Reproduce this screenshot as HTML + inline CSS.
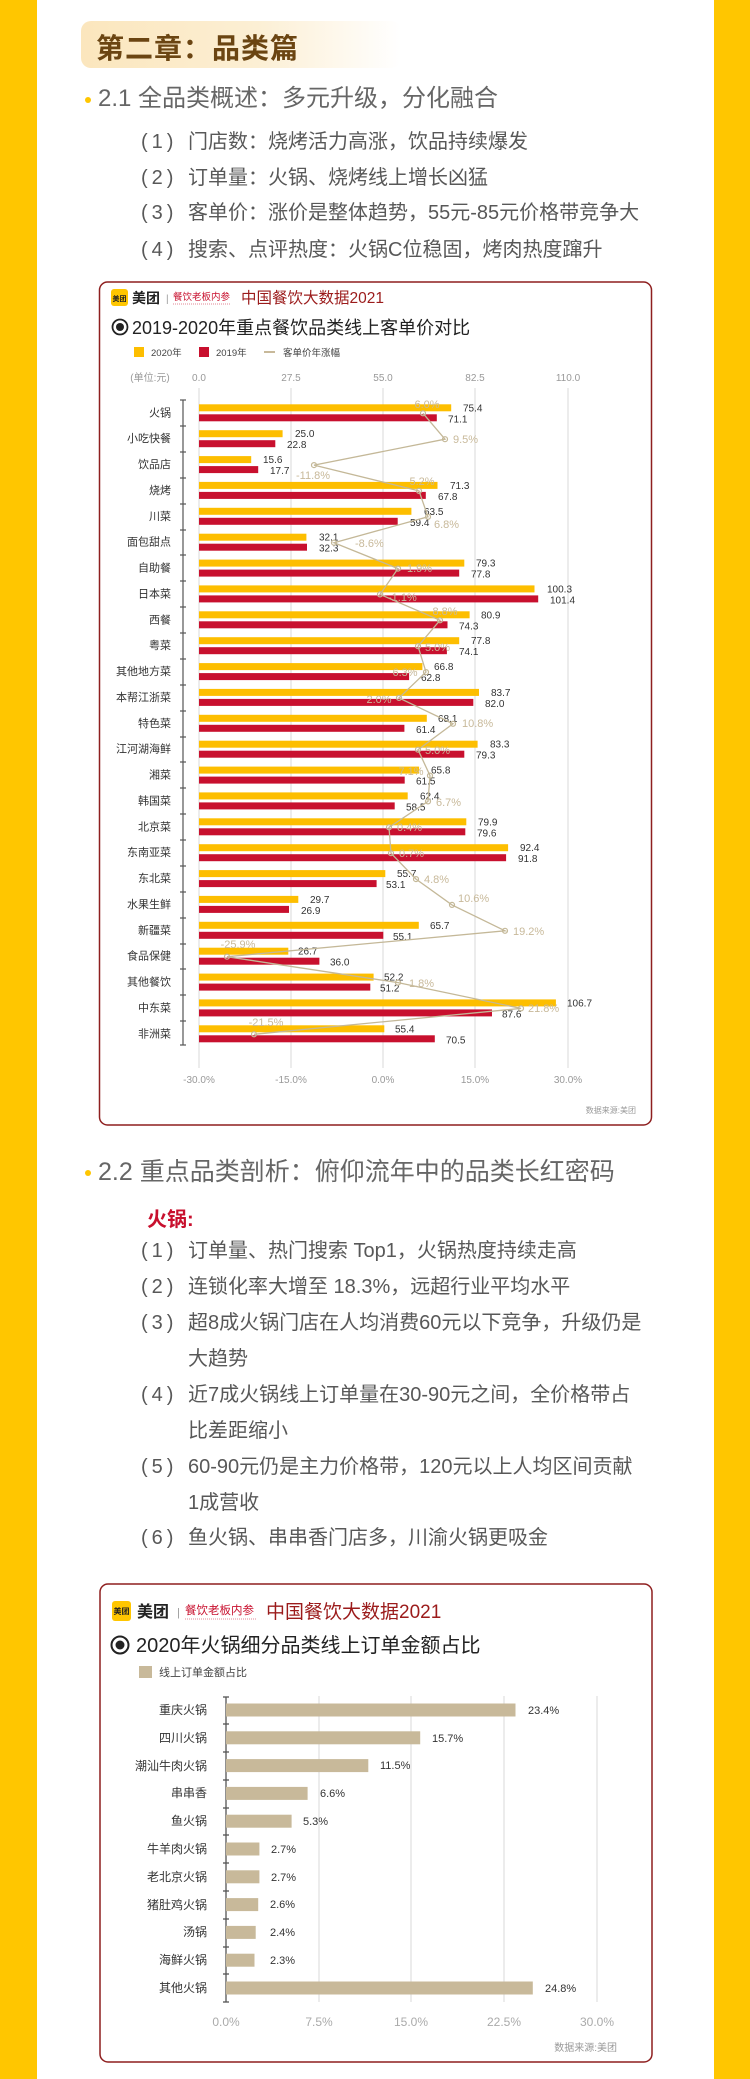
<!DOCTYPE html>
<html><head><meta charset="utf-8">
<style>
*{margin:0;padding:0;box-sizing:border-box}
html,body{width:750px;height:2079px;overflow:hidden;background:#fff}
body{position:relative;font-family:"Liberation Sans","Noto Sans CJK SC",sans-serif}
.side{position:absolute;top:0;height:2079px;background:#FFC600}
.t{position:absolute;white-space:nowrap}
.hd{position:absolute;left:81px;top:21px;width:320px;height:47px;border-radius:10px;background:linear-gradient(90deg,#fbe6bd 0%,#fcefd4 55%,#fff 100%)}
.hd span{position:absolute;left:15px;top:6px;font-size:28px;font-weight:bold;color:#6b4512;letter-spacing:1px}
.h2{font-size:24px;color:#666;line-height:36px}
.dot{position:absolute;width:6px;height:6px;border-radius:3px;background:#FFC600}
.it{position:absolute;left:141px;font-size:20px;color:#585858;line-height:36px;white-space:nowrap}
.it b{display:inline-block;width:47px;font-weight:normal}
.it i{font-style:normal;display:inline-block;padding-left:47px}
svg{position:absolute;left:0;top:0}
</style></head><body>
<div class="side" style="left:0;width:37px"></div>
<div class="side" style="left:714px;width:36px"></div>

<div class="hd"><span>第二章：品类篇</span></div>

<div class="dot" style="left:85px;top:97px"></div>
<div class="t h2" style="left:98px;top:81px">2.1 全品类概述：多元升级，分化融合</div>
<div class="it" style="top:124px"><b>(&thinsp;1&thinsp;)</b>门店数：烧烤活力高涨，饮品持续爆发</div>
<div class="it" style="top:160px"><b>(&thinsp;2&thinsp;)</b>订单量：火锅、烧烤线上增长凶猛</div>
<div class="it" style="top:195px"><b>(&thinsp;3&thinsp;)</b>客单价：涨价是整体趋势，55元-85元价格带竞争大</div>
<div class="it" style="top:232px"><b>(&thinsp;4&thinsp;)</b>搜索、点评热度：火锅C位稳固，烤肉热度蹿升</div>

<div class="dot" style="left:85px;top:1170px"></div>
<div class="t h2" style="left:98px;top:1154px;font-size:25px">2.2 重点品类剖析：俯仰流年中的品类长红密码</div>
<div class="t" style="left:147px;top:1203px;font-size:20px;font-weight:bold;color:#c8102e">火锅:</div>
<div class="it" style="top:1233px"><b>(&thinsp;1&thinsp;)</b>订单量、热门搜索 Top1，火锅热度持续走高</div>
<div class="it" style="top:1269px"><b>(&thinsp;2&thinsp;)</b>连锁化率大增至 18.3%，远超行业平均水平</div>
<div class="it" style="top:1305px"><b>(&thinsp;3&thinsp;)</b>超8成火锅门店在人均消费60元以下竞争，升级仍是<br><i>大趋势</i></div>
<div class="it" style="top:1377px"><b>(&thinsp;4&thinsp;)</b>近7成火锅线上订单量在30-90元之间，全价格带占<br><i>比差距缩小</i></div>
<div class="it" style="top:1449px"><b>(&thinsp;5&thinsp;)</b>60-90元仍是主力价格带，120元以上人均区间贡献<br><i>1成营收</i></div>
<div class="it" style="top:1520px"><b>(&thinsp;6&thinsp;)</b>鱼火锅、串串香门店多，川渝火锅更吸金</div>

<svg width="750" height="2079" viewBox="0 0 750 2079" font-family="Liberation Sans, Noto Sans CJK SC, sans-serif">
<!-- CHART 1 -->
<rect x="99.5" y="282" width="552" height="843" rx="8" fill="none" stroke="#8e1f1f" stroke-width="1.5"/>
<rect x="111" y="289" width="17" height="17" rx="3" fill="#FFC600"/>
<text x="119.5" y="301" font-size="7" text-anchor="middle" fill="#222" font-weight="bold">美团</text>
<text x="132" y="303" font-size="14" font-weight="bold" fill="#222">美团</text>
<text x="166" y="302" font-size="10" fill="#999">|</text>
<text x="173" y="300" font-size="9.5" fill="#c8102e">餐饮老板内参</text>
<line x1="173" y1="304" x2="231" y2="304" stroke="#c8102e" stroke-width="0.6" stroke-dasharray="1,1"/>
<text x="241" y="303" font-size="15.5" fill="#9b1b1b">中国餐饮大数据2021</text>
<circle cx="120" cy="327" r="7.5" fill="none" stroke="#222" stroke-width="1.8"/>
<circle cx="120" cy="327" r="4" fill="#222"/>
<text x="132" y="334" font-size="18" fill="#222">2019-2020年重点餐饮品类线上客单价对比</text>
<rect x="134" y="347" width="10" height="10" fill="#FDBE00"/>
<text x="151" y="356" font-size="9.5" fill="#444">2020年</text>
<rect x="199" y="347" width="10" height="10" fill="#C8102E"/>
<text x="216" y="356" font-size="9.5" fill="#444">2019年</text>
<line x1="264" y1="352" x2="275" y2="352" stroke="#c8b99a" stroke-width="2"/>
<text x="283" y="356" font-size="9.5" fill="#444">客单价年涨幅</text>
<g font-size="10" fill="#999" text-anchor="middle">
<text x="150" y="381">(单位:元)</text>
<text x="199" y="381">0.0</text><text x="291" y="381">27.5</text><text x="383" y="381">55.0</text><text x="475" y="381">82.5</text><text x="568" y="381">110.0</text>
<text x="199" y="1083">-30.0%</text><text x="291" y="1083">-15.0%</text><text x="383" y="1083">0.0%</text><text x="475" y="1083">15.0%</text><text x="568" y="1083">30.0%</text>
</g>
<g stroke="#d8d8d8" stroke-width="1">
<line x1="199" y1="388" x2="199" y2="1068"/><line x1="291" y1="388" x2="291" y2="1068"/><line x1="383" y1="388" x2="383" y2="1068"/><line x1="475" y1="388" x2="475" y2="1068"/><line x1="568" y1="388" x2="568" y2="1068"/>
</g>
<line x1="183" y1="400" x2="183" y2="1045" stroke="#555" stroke-width="1.2"/>
<g stroke="#555" stroke-width="1.2">
<line x1="180" y1="400" x2="186" y2="400"/><line x1="180" y1="426" x2="186" y2="426"/><line x1="180" y1="452" x2="186" y2="452"/><line x1="180" y1="478" x2="186" y2="478"/><line x1="180" y1="504" x2="186" y2="504"/><line x1="180" y1="530" x2="186" y2="530"/><line x1="180" y1="555" x2="186" y2="555"/><line x1="180" y1="581" x2="186" y2="581"/><line x1="180" y1="607" x2="186" y2="607"/><line x1="180" y1="633" x2="186" y2="633"/><line x1="180" y1="659" x2="186" y2="659"/><line x1="180" y1="685" x2="186" y2="685"/><line x1="180" y1="711" x2="186" y2="711"/><line x1="180" y1="737" x2="186" y2="737"/><line x1="180" y1="762" x2="186" y2="762"/><line x1="180" y1="788" x2="186" y2="788"/><line x1="180" y1="814" x2="186" y2="814"/><line x1="180" y1="840" x2="186" y2="840"/><line x1="180" y1="866" x2="186" y2="866"/><line x1="180" y1="892" x2="186" y2="892"/><line x1="180" y1="918" x2="186" y2="918"/><line x1="180" y1="944" x2="186" y2="944"/><line x1="180" y1="969" x2="186" y2="969"/><line x1="180" y1="995" x2="186" y2="995"/><line x1="180" y1="1021" x2="186" y2="1021"/><line x1="180" y1="1045" x2="186" y2="1045"/>
</g>
<g font-size="10" fill="#333">
<g transform="translate(0,404.3)"><text x="171" y="12" font-size="11" text-anchor="end">火锅</text><rect x="199" y="0" width="252.2" height="7" fill="#FDBE00"/><rect x="199" y="10" width="237.8" height="7" fill="#C8102E"/><text x="463" y="7">75.4</text><text x="448" y="18">71.1</text></g>
<g transform="translate(0,430.2)"><text x="171" y="12" font-size="11" text-anchor="end">小吃快餐</text><rect x="199" y="0" width="83.6" height="7" fill="#FDBE00"/><rect x="199" y="10" width="76.3" height="7" fill="#C8102E"/><text x="295" y="7">25.0</text><text x="287" y="18">22.8</text></g>
<g transform="translate(0,456.1)"><text x="171" y="12" font-size="11" text-anchor="end">饮品店</text><rect x="199" y="0" width="52.2" height="7" fill="#FDBE00"/><rect x="199" y="10" width="59.2" height="7" fill="#C8102E"/><text x="263" y="7">15.6</text><text x="270" y="18">17.7</text></g>
<g transform="translate(0,481.9)"><text x="171" y="12" font-size="11" text-anchor="end">烧烤</text><rect x="199" y="0" width="238.5" height="7" fill="#FDBE00"/><rect x="199" y="10" width="226.8" height="7" fill="#C8102E"/><text x="450" y="7">71.3</text><text x="438" y="18">67.8</text></g>
<g transform="translate(0,507.8)"><text x="171" y="12" font-size="11" text-anchor="end">川菜</text><rect x="199" y="0" width="212.4" height="7" fill="#FDBE00"/><rect x="199" y="10" width="198.7" height="7" fill="#C8102E"/><text x="424" y="7">63.5</text><text x="410" y="18">59.4</text></g>
<g transform="translate(0,533.7)"><text x="171" y="12" font-size="11" text-anchor="end">面包甜点</text><rect x="199" y="0" width="107.4" height="7" fill="#FDBE00"/><rect x="199" y="10" width="108" height="7" fill="#C8102E"/><text x="319" y="7">32.1</text><text x="319" y="18">32.3</text></g>
<g transform="translate(0,559.6)"><text x="171" y="12" font-size="11" text-anchor="end">自助餐</text><rect x="199" y="0" width="265.3" height="7" fill="#FDBE00"/><rect x="199" y="10" width="260.2" height="7" fill="#C8102E"/><text x="476" y="7">79.3</text><text x="471" y="18">77.8</text></g>
<g transform="translate(0,585.4)"><text x="171" y="12" font-size="11" text-anchor="end">日本菜</text><rect x="199" y="0" width="335.5" height="7" fill="#FDBE00"/><rect x="199" y="10" width="339.2" height="7" fill="#C8102E"/><text x="547" y="7">100.3</text><text x="550" y="18">101.4</text></g>
<g transform="translate(0,611.3)"><text x="171" y="12" font-size="11" text-anchor="end">西餐</text><rect x="199" y="0" width="270.6" height="7" fill="#FDBE00"/><rect x="199" y="10" width="248.5" height="7" fill="#C8102E"/><text x="481" y="7">80.9</text><text x="459" y="18">74.3</text></g>
<g transform="translate(0,637.2)"><text x="171" y="12" font-size="11" text-anchor="end">粤菜</text><rect x="199" y="0" width="260.2" height="7" fill="#FDBE00"/><rect x="199" y="10" width="247.9" height="7" fill="#C8102E"/><text x="471" y="7">77.8</text><text x="459" y="18">74.1</text></g>
<g transform="translate(0,663.1)"><text x="171" y="12" font-size="11" text-anchor="end">其他地方菜</text><rect x="199" y="0" width="223.4" height="7" fill="#FDBE00"/><rect x="199" y="10" width="210.1" height="7" fill="#C8102E"/><text x="434" y="7">66.8</text><text x="421" y="18">62.8</text></g>
<g transform="translate(0,688.9)"><text x="171" y="12" font-size="11" text-anchor="end">本帮江浙菜</text><rect x="199" y="0" width="280" height="7" fill="#FDBE00"/><rect x="199" y="10" width="274.3" height="7" fill="#C8102E"/><text x="491" y="7">83.7</text><text x="485" y="18">82.0</text></g>
<g transform="translate(0,714.8)"><text x="171" y="12" font-size="11" text-anchor="end">特色菜</text><rect x="199" y="0" width="227.8" height="7" fill="#FDBE00"/><rect x="199" y="10" width="205.4" height="7" fill="#C8102E"/><text x="438" y="7">68.1</text><text x="416" y="18">61.4</text></g>
<g transform="translate(0,740.7)"><text x="171" y="12" font-size="11" text-anchor="end">江河湖海鲜</text><rect x="199" y="0" width="278.6" height="7" fill="#FDBE00"/><rect x="199" y="10" width="265.3" height="7" fill="#C8102E"/><text x="490" y="7">83.3</text><text x="476" y="18">79.3</text></g>
<g transform="translate(0,766.6)"><text x="171" y="12" font-size="11" text-anchor="end">湘菜</text><rect x="199" y="0" width="220.1" height="7" fill="#FDBE00"/><rect x="199" y="10" width="205.7" height="7" fill="#C8102E"/><text x="431" y="7">65.8</text><text x="416" y="18">61.5</text></g>
<g transform="translate(0,792.4)"><text x="171" y="12" font-size="11" text-anchor="end">韩国菜</text><rect x="199" y="0" width="208.7" height="7" fill="#FDBE00"/><rect x="199" y="10" width="195.7" height="7" fill="#C8102E"/><text x="420" y="7">62.4</text><text x="406" y="18">58.5</text></g>
<g transform="translate(0,818.3)"><text x="171" y="12" font-size="11" text-anchor="end">北京菜</text><rect x="199" y="0" width="267.3" height="7" fill="#FDBE00"/><rect x="199" y="10" width="266.3" height="7" fill="#C8102E"/><text x="478" y="7">79.9</text><text x="477" y="18">79.6</text></g>
<g transform="translate(0,844.2)"><text x="171" y="12" font-size="11" text-anchor="end">东南亚菜</text><rect x="199" y="0" width="309.1" height="7" fill="#FDBE00"/><rect x="199" y="10" width="307.1" height="7" fill="#C8102E"/><text x="520" y="7">92.4</text><text x="518" y="18">91.8</text></g>
<g transform="translate(0,870.1)"><text x="171" y="12" font-size="11" text-anchor="end">东北菜</text><rect x="199" y="0" width="186.3" height="7" fill="#FDBE00"/><rect x="199" y="10" width="177.6" height="7" fill="#C8102E"/><text x="397" y="7">55.7</text><text x="386" y="18">53.1</text></g>
<g transform="translate(0,895.9)"><text x="171" y="12" font-size="11" text-anchor="end">水果生鲜</text><rect x="199" y="0" width="99.3" height="7" fill="#FDBE00"/><rect x="199" y="10" width="90" height="7" fill="#C8102E"/><text x="310" y="7">29.7</text><text x="301" y="18">26.9</text></g>
<g transform="translate(0,921.8)"><text x="171" y="12" font-size="11" text-anchor="end">新疆菜</text><rect x="199" y="0" width="219.8" height="7" fill="#FDBE00"/><rect x="199" y="10" width="184.3" height="7" fill="#C8102E"/><text x="430" y="7">65.7</text><text x="393" y="18">55.1</text></g>
<g transform="translate(0,947.7)"><text x="171" y="12" font-size="11" text-anchor="end">食品保健</text><rect x="199" y="0" width="89.3" height="7" fill="#FDBE00"/><rect x="199" y="10" width="120.4" height="7" fill="#C8102E"/><text x="298" y="7">26.7</text><text x="330" y="18">36.0</text></g>
<g transform="translate(0,973.6)"><text x="171" y="12" font-size="11" text-anchor="end">其他餐饮</text><rect x="199" y="0" width="174.6" height="7" fill="#FDBE00"/><rect x="199" y="10" width="171.3" height="7" fill="#C8102E"/><text x="384" y="7">52.2</text><text x="380" y="18">51.2</text></g>
<g transform="translate(0,999.4)"><text x="171" y="12" font-size="11" text-anchor="end">中东菜</text><rect x="199" y="0" width="356.9" height="7" fill="#FDBE00"/><rect x="199" y="10" width="293" height="7" fill="#C8102E"/><text x="567" y="7">106.7</text><text x="502" y="18">87.6</text></g>
<g transform="translate(0,1025.3)"><text x="171" y="12" font-size="11" text-anchor="end">非洲菜</text><rect x="199" y="0" width="185.3" height="7" fill="#FDBE00"/><rect x="199" y="10" width="235.8" height="7" fill="#C8102E"/><text x="395" y="7">55.4</text><text x="446" y="18">70.5</text></g>
</g>
<polyline fill="none" stroke="#c4b898" stroke-width="1.3" points="423,413.3 445,439.2 314,465.1 419,490.9 428,516.8 334,542.7 398,568.6 380,594.4 440,620.3 418,646.2 426,672.1 399,697.9 453,723.8 418,749.7 430,775.6 428,801.4 389,827.3 391,853.2 416,879.1 452,904.9 505,930.8 227,956.7 398,982.6 521,1008.4 254,1034.3"/>
<g fill="none" stroke="#c4b898" stroke-width="1.2">
<circle cx="423" cy="413.3" r="2.5"/><circle cx="445" cy="439.2" r="2.5"/><circle cx="314" cy="465.1" r="2.5"/><circle cx="419" cy="490.9" r="2.5"/><circle cx="428" cy="516.8" r="2.5"/><circle cx="334" cy="542.7" r="2.5"/><circle cx="398" cy="568.6" r="2.5"/><circle cx="380" cy="594.4" r="2.5"/><circle cx="440" cy="620.3" r="2.5"/><circle cx="418" cy="646.2" r="2.5"/><circle cx="426" cy="672.1" r="2.5"/><circle cx="399" cy="697.9" r="2.5"/><circle cx="453" cy="723.8" r="2.5"/><circle cx="418" cy="749.7" r="2.5"/><circle cx="430" cy="775.6" r="2.5"/><circle cx="428" cy="801.4" r="2.5"/><circle cx="389" cy="827.3" r="2.5"/><circle cx="391" cy="853.2" r="2.5"/><circle cx="416" cy="879.1" r="2.5"/><circle cx="452" cy="904.9" r="2.5"/><circle cx="505" cy="930.8" r="2.5"/><circle cx="227" cy="956.7" r="2.5"/><circle cx="398" cy="982.6" r="2.5"/><circle cx="521" cy="1008.4" r="2.5"/><circle cx="254" cy="1034.3" r="2.5"/>
</g>
<g font-size="11" fill="#c8b99a">
<text x="427" y="408" text-anchor="middle">6.0%</text>
<text x="453" y="443">9.5%</text>
<text x="296" y="479">-11.8%</text>
<text x="422" y="485" text-anchor="middle">5.2%</text>
<text x="434" y="528">6.8%</text>
<text x="355" y="547">-8.6%</text>
<text x="407" y="572">1.9%</text>
<text x="388" y="601">-1.1%</text>
<text x="445" y="615" text-anchor="middle">8.8%</text>
<text x="425" y="651">5.0%</text>
<text x="405" y="676" text-anchor="middle">6.3%</text>
<text x="379" y="703" text-anchor="middle">2.0%</text>
<text x="462" y="727">10.8%</text>
<text x="425" y="754">5.0%</text>
<text x="411" y="775" text-anchor="middle">7.1%</text>
<text x="436" y="806">6.7%</text>
<text x="397" y="831">0.4%</text>
<text x="399" y="857">0.7%</text>
<text x="424" y="883">4.8%</text>
<text x="458" y="902">10.6%</text>
<text x="513" y="935">19.2%</text>
<text x="238" y="948" text-anchor="middle">-25.9%</text>
<text x="409" y="987">1.8%</text>
<text x="528" y="1012">21.8%</text>
<text x="266" y="1026" text-anchor="middle">-21.5%</text>
</g>
<text x="636" y="1113" font-size="8" fill="#999" text-anchor="end">数据来源:美团</text>

<!-- CHART 2 -->
<rect x="100" y="1584" width="552" height="478" rx="8" fill="none" stroke="#8e1f1f" stroke-width="1.5"/>
<rect x="112" y="1601" width="19" height="20" rx="3" fill="#FFC600"/>
<text x="121.5" y="1614" font-size="8" text-anchor="middle" fill="#222" font-weight="bold">美团</text>
<text x="137" y="1617" font-size="16" font-weight="bold" fill="#222">美团</text>
<text x="177" y="1616" font-size="11" fill="#999">|</text>
<text x="185" y="1614" font-size="11.5" fill="#c8102e">餐饮老板内参</text>
<line x1="185" y1="1619" x2="256" y2="1619" stroke="#c8102e" stroke-width="0.6" stroke-dasharray="1,1"/>
<text x="266" y="1618" font-size="19" fill="#9b1b1b">中国餐饮大数据2021</text>
<circle cx="120" cy="1645" r="8.5" fill="none" stroke="#222" stroke-width="2"/>
<circle cx="120" cy="1645" r="4.5" fill="#222"/>
<text x="136" y="1652" font-size="20" fill="#222">2020年火锅细分品类线上订单金额占比</text>
<rect x="139" y="1666" width="13" height="12" fill="#c8b99a"/>
<text x="159" y="1676" font-size="11" fill="#444">线上订单金额占比</text>
<g stroke="#d8d8d8" stroke-width="1">
<line x1="319" y1="1696" x2="319" y2="2002"/><line x1="411" y1="1696" x2="411" y2="2002"/><line x1="504" y1="1696" x2="504" y2="2002"/><line x1="597" y1="1696" x2="597" y2="2002"/>
</g>
<line x1="226" y1="1697" x2="226" y2="2002" stroke="#555" stroke-width="1.3"/>
<g stroke="#555" stroke-width="1.3">
<line x1="223" y1="1697" x2="229" y2="1697"/><line x1="223" y1="1724" x2="229" y2="1724"/><line x1="223" y1="1752" x2="229" y2="1752"/><line x1="223" y1="1780" x2="229" y2="1780"/><line x1="223" y1="1808" x2="229" y2="1808"/><line x1="223" y1="1835" x2="229" y2="1835"/><line x1="223" y1="1863" x2="229" y2="1863"/><line x1="223" y1="1891" x2="229" y2="1891"/><line x1="223" y1="1919" x2="229" y2="1919"/><line x1="223" y1="1947" x2="229" y2="1947"/><line x1="223" y1="1974" x2="229" y2="1974"/><line x1="223" y1="2002" x2="229" y2="2002"/>
</g>
<g fill="#c8b99a">
<rect x="226" y="1703.5" width="289.5" height="13"/>
<rect x="226" y="1731.3" width="194.2" height="13"/>
<rect x="226" y="1759.1" width="142.3" height="13"/>
<rect x="226" y="1786.9" width="81.6" height="13"/>
<rect x="226" y="1814.7" width="65.6" height="13"/>
<rect x="226" y="1842.5" width="33.4" height="13"/>
<rect x="226" y="1870.3" width="33.4" height="13"/>
<rect x="226" y="1898.1" width="32.2" height="13"/>
<rect x="226" y="1925.9" width="29.7" height="13"/>
<rect x="226" y="1953.7" width="28.5" height="13"/>
<rect x="226" y="1981.5" width="306.8" height="13"/>
</g>
<g font-size="12" fill="#333" text-anchor="end">
<text x="207" y="1714">重庆火锅</text><text x="207" y="1742">四川火锅</text><text x="207" y="1770">潮汕牛肉火锅</text><text x="207" y="1797">串串香</text><text x="207" y="1825">鱼火锅</text><text x="207" y="1853">牛羊肉火锅</text><text x="207" y="1881">老北京火锅</text><text x="207" y="1909">猪肚鸡火锅</text><text x="207" y="1936">汤锅</text><text x="207" y="1964">海鲜火锅</text><text x="207" y="1992">其他火锅</text>
</g>
<g font-size="11" fill="#333">
<text x="528" y="1714">23.4%</text><text x="432" y="1742">15.7%</text><text x="380" y="1769">11.5%</text><text x="320" y="1797">6.6%</text><text x="303" y="1825">5.3%</text><text x="271" y="1853">2.7%</text><text x="271" y="1881">2.7%</text><text x="270" y="1908">2.6%</text><text x="270" y="1936">2.4%</text><text x="270" y="1964">2.3%</text><text x="545" y="1992">24.8%</text>
</g>
<g font-size="12" fill="#aaa" text-anchor="middle">
<text x="226" y="2026">0.0%</text><text x="319" y="2026">7.5%</text><text x="411" y="2026">15.0%</text><text x="504" y="2026">22.5%</text><text x="597" y="2026">30.0%</text>
</g>
<text x="617" y="2051" font-size="10" fill="#999" text-anchor="end">数据来源:美团</text>
</svg>
</body></html>
